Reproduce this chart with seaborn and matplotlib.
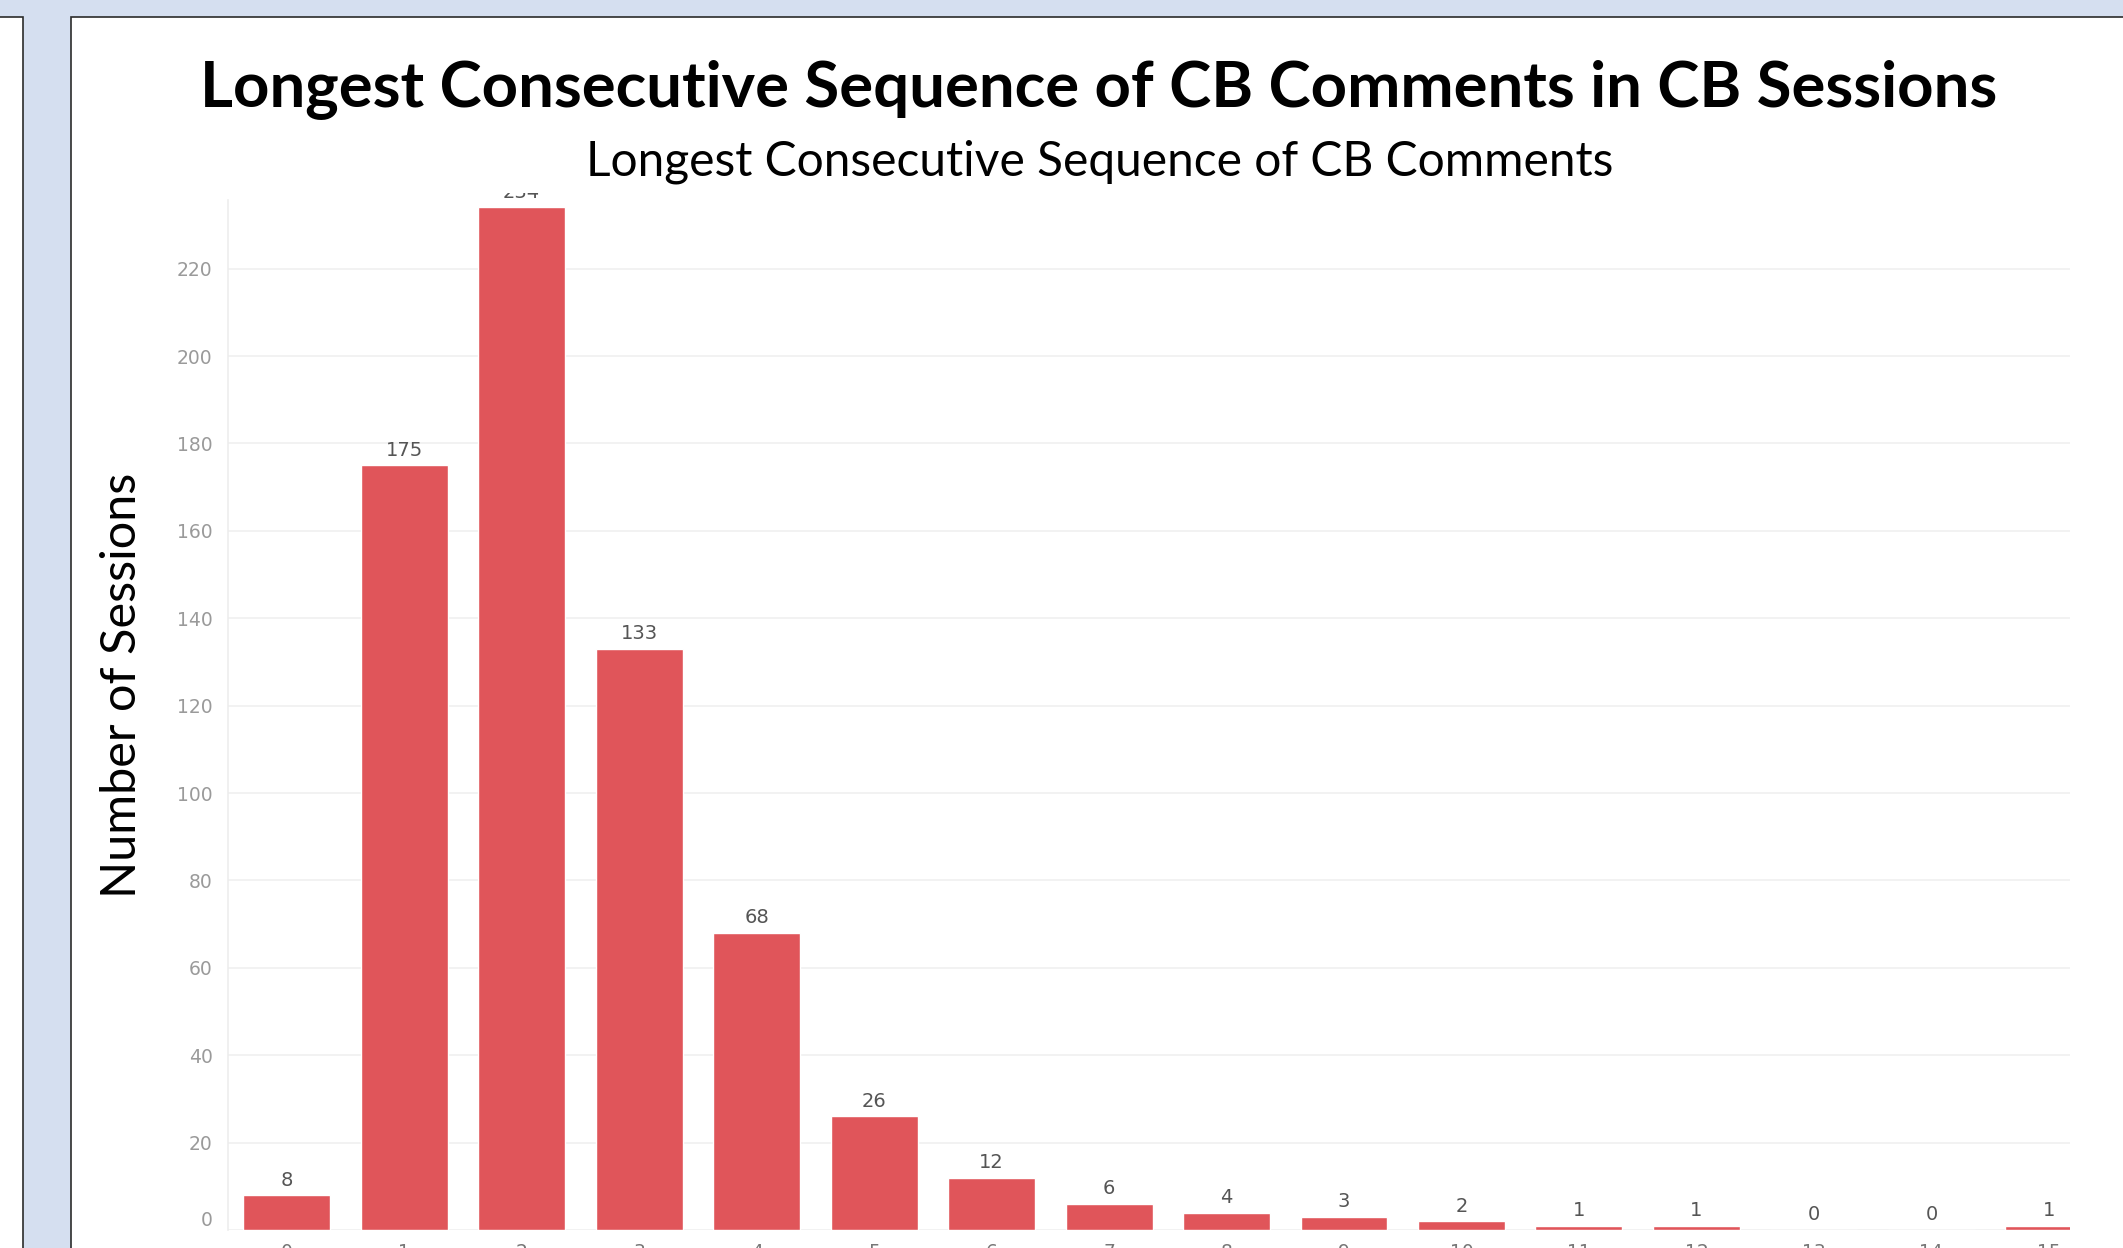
import matplotlib
matplotlib.use("Agg")
import matplotlib.pyplot as plt
from matplotlib.patches import Rectangle
import matplotlib.transforms as mtransforms
import seaborn as sns
import pandas as pd

# Longest run of consecutive CB comments per session, and how many sessions had it
run_lengths = [str(i) for i in range(16)]
session_counts = [8, 175, 234, 133, 68, 26, 12, 6, 4, 3, 2, 1, 1, 0, 0, 1]
y_ticks = list(range(0, 221, 20))

title = "Longest Consecutive Sequence of CB Comments in CB Sessions"
subtitle = "Longest Consecutive Sequence of CB Comments"
y_label = "Number of Sessions"

sns.set_style("white")
plt.rcParams["font.family"] = ["DejaVu Sans"]

W, H, DPI = 2123, 1248, 100
fig = plt.figure(figsize=(W / DPI, H / DPI), dpi=DPI, facecolor="#D5DFF0")


def fx(px):
    return px / W


def fy(py):
    return 1 - py / H


# slide-style frames behind the chart
fig.patches.append(Rectangle((fx(-5), fy(H + 5)), fx(28), fy(17) - fy(H + 5),
                             transform=fig.transFigure, facecolor="white",
                             edgecolor="#2b2b2b", linewidth=1.2, zorder=-2))
fig.patches.append(Rectangle((fx(71), fy(H + 5)), fx(W + 10 - 71), fy(17) - fy(H + 5),
                             transform=fig.transFigure, facecolor="white",
                             edgecolor="#2b2b2b", linewidth=1.2, zorder=-2))

fig.text(fx(1099), fy(106), title, ha="center", va="baseline",
         family="Lato", weight="bold", fontsize=45.7, color="black")
fig.text(fx(1100), fy(176), subtitle, ha="center", va="baseline",
         family="Lato", fontsize=34.5, color="black")
fig.text(fx(122), fy(685), y_label, ha="center", va="center", rotation=90,
         family="Lato", fontsize=35, color="black")

# plot area; the upper edge leaves a little room above the visible frame
Y_TOP = 237.3
ax = fig.add_axes([fx(228), fy(1230), fx(2070) - fx(228), fy(193) - fy(1230)])
ax.set_zorder(2)
ax.set_facecolor("none")

df = pd.DataFrame({"run": run_lengths, "sessions": session_counts})
sns.barplot(data=df, x="run", y="sessions", order=run_lengths, color="#E0555A",
            saturation=1, width=0.74, ax=ax, zorder=2)

ax.set_xlim(-0.5, 15.18)
ax.set_ylim(0, Y_TOP)
ax.set_yticks(y_ticks)
ax.set_xlabel("")
ax.set_ylabel("")

ax.grid(axis="y", color="#F0F0F0", linewidth=1.2)
ax.grid(axis="x", visible=False)
ax.set_axisbelow(True)
for side in ["top", "right", "bottom"]:
    ax.spines[side].set_visible(False)
ax.spines["left"].set_color("#EDEDED")
ax.spines["left"].set_linewidth(1.2)
ax.spines["left"].set_bounds(0, 235.7)

ax.tick_params(axis="y", length=0, pad=11, labelsize=13.5, labelcolor="#9A9A9A")
ax.tick_params(axis="x", length=0, pad=9, labelsize=13.5, labelcolor="#777777")

# the zero label sits a little above its gridline
for lab in ax.get_yticklabels():
    if lab.get_text() == "0":
        lab.set_transform(lab.get_transform() +
                          mtransforms.ScaledTranslation(0, 11 / DPI, fig.dpi_scale_trans))

for i, v in enumerate(session_counts):
    ax.annotate(str(v), (i, v), xytext=(0, 15), textcoords="offset pixels",
                ha="center", va="center", fontsize=14, color="#555555",
                clip_on=True, annotation_clip=False)

fig.savefig("out.png", dpi=DPI, facecolor=fig.get_facecolor())
